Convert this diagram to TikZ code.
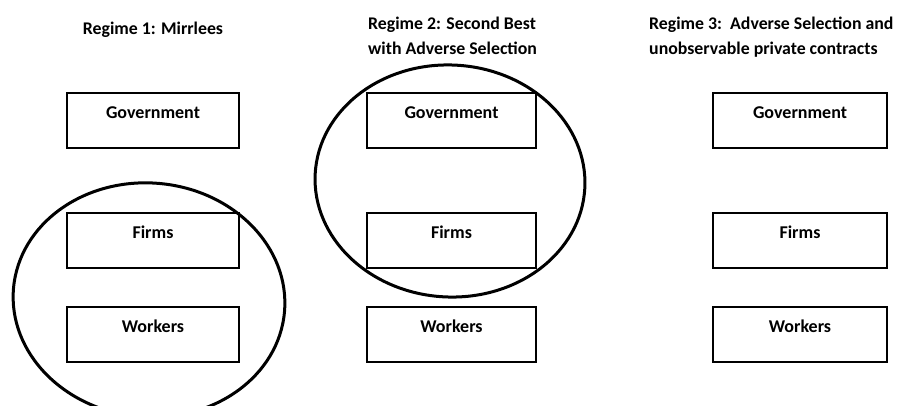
\documentclass[tikz,border=0pt]{standalone}
\usepackage{fontspec}
\setmainfont{Carlito}
\begin{document}
\begin{tikzpicture}[x=1pt,y=-1pt,
  box/.style={draw=black,line width=2.4pt,minimum width=172pt,minimum height=55pt,inner sep=0pt},
  lbl/.style={font=\fontsize{18}{20}\selectfont\bfseries,inner sep=0pt,anchor=mid},
  hdr/.style={font=\fontsize{17.8}{20}\selectfont\bfseries,inner sep=0pt,anchor=mid west},
  ring/.style={draw=black,line width=3pt}]
\useasboundingbox (0,0) rectangle (898,406);
\clip (0,0) rectangle (898,406);
% headers
\node[font=\fontsize{17.8}{20}\selectfont\bfseries,inner sep=0pt,anchor=mid] (h1) at (153,32) {Regime 1: Mirrlees};
\node[hdr] (h2a) at (368,27) {Regime 2: Second Best};
\node[hdr] (h2b) at (368,52) {with Adverse Selection};
\node[hdr] (h3a) at (649,27) {Regime 3:\ \ Adverse Selection and};
\node[hdr] (h3b) at (649,52) {unobservable private contracts};
% boxes column 1
\node[box,minimum width=172pt] (g1) at (153,120.5) {};
\node[box,minimum width=172pt] (f1) at (153,240.5) {};
\node[box,minimum width=172pt] (w1) at (153,334.5) {};
% column 2
\node[box,minimum width=169pt] (g2) at (451.5,120.5) {};
\node[box,minimum width=169pt] (f2) at (451.5,240.5) {};
\node[box,minimum width=169pt] (w2) at (451.5,334.5) {};
% column 3
\node[box,minimum width=174pt] (g3) at (800,120.5) {};
\node[box,minimum width=174pt] (f3) at (800,240.5) {};
\node[box,minimum width=174pt] (w3) at (800,334.5) {};
% labels
\foreach \c in {1,2,3}{
  \node[lbl] at ([yshift=-24pt]g\c.north) {Government};
  \node[lbl] at ([yshift=-24pt]f\c.north) {Firms};
  \node[lbl] at ([yshift=-24pt]w\c.north) {Workers};
}
% ellipses
\draw[ring,rotate around={-5:(149,300)}] (149,300) ellipse [x radius=136pt, y radius=117pt];
\draw[ring,rotate around={-3:(450,181)}] (450,181) ellipse [x radius=135pt, y radius=116pt];
\end{tikzpicture}
\end{document}
